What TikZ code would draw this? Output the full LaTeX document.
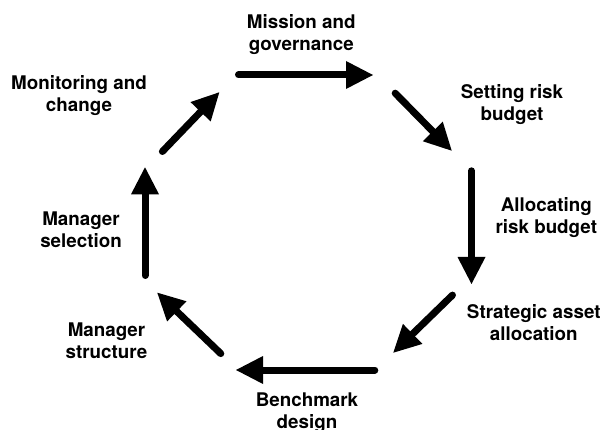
\documentclass[tikz,border=0pt]{standalone}
\usepackage{fontspec}
\setmainfont{TeX Gyre Heros}
\usetikzlibrary{arrows.meta}
\begin{document}
\begin{tikzpicture}[x=1pt,y=-1pt,
    every node/.style={font=\bfseries\fontsize{18.8}{22}\selectfont,
      align=center,anchor=base,inner sep=0pt}]
      \useasboundingbox (0,0) rectangle (605,430);
      \draw
        (301.3,50.8) node (mission){Mission and\\governance}
        (512,120.3) node (setting){Setting risk\\budget}
        (546.3,233.7) node (allocating){Allocating\\risk budget}
        (533.8,340.3) node (strategic){Strategic asset\\allocation}
        (307,428.7) node (benchmark){Benchmark\\design}
        (106.5,358) node (structure){Manager\\structure}
        (81,247.7) node (selection){Manager\\selection}
        (79,111.3) node (monitoring){Monitoring and\\change};
      \path
        (238.5,75) coordinate (0a) (373,75) coordinate (0b)
        (395.2,93.2) coordinate (1a) (451.7,150.7) coordinate (1b)
        (471.5,170.8) coordinate (2a) (471.5,284) coordinate (2b)
        (452.5,295.1) coordinate (3a) (393.3,352.7) coordinate (3b)
        (374.8,370) coordinate (4a) (236,370) coordinate (4b)
        (220.8,353.6) coordinate (5a) (157.3,292.7) coordinate (5b)
        (145,275.5) coordinate (6a) (145,167.3) coordinate (6b)
        (162.4,151.5) coordinate (7a) (219.3,92.3) coordinate (7b);
      \begin{scope}[line width=7pt,line cap=round,
          -{Triangle[length=27pt,width=28pt,line width=0pt]}]
        \draw (0a) to (0b);
        \draw (1a) to (1b);
        \draw (2a) to (2b);
        \draw (3a) to (3b);
        \draw (4a) to (4b);
        \draw (5a) to (5b);
        \draw (6a) to (6b);
        \draw (7a) to (7b);
      \end{scope}
    \end{tikzpicture}
\end{document}
